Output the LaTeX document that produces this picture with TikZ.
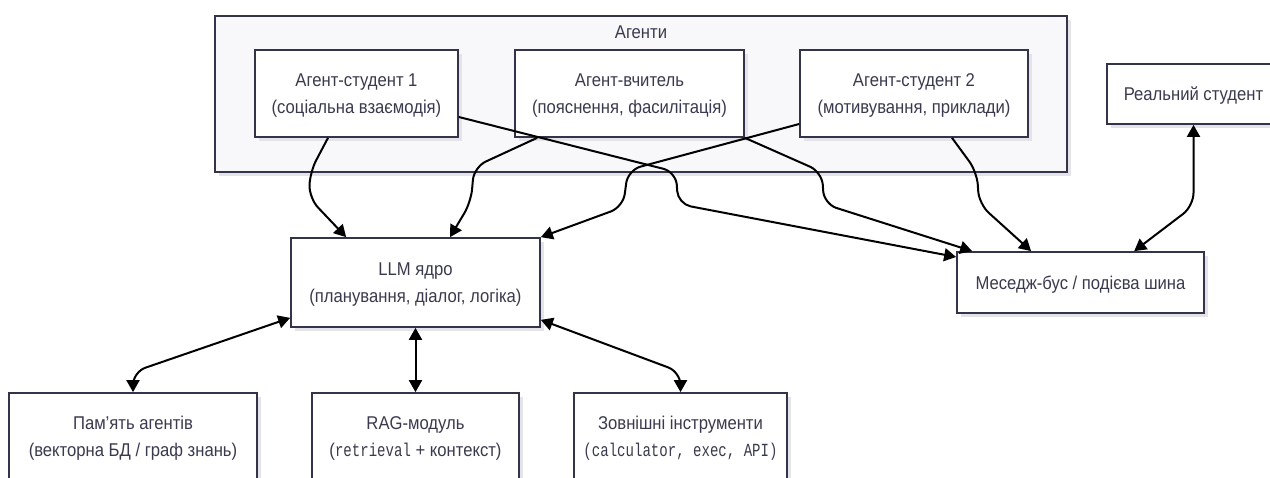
\documentclass[tikz,border=0pt]{standalone}
\usepackage{fontspec}
\setmainfont{Liberation Sans}[FakeStretch=0.9]
\newfontfamily\monof{Liberation Mono}[FakeStretch=0.76]
\usetikzlibrary{arrows.meta,calc}
\definecolor{bordc}{HTML}{33334A}
\definecolor{txtc}{HTML}{3A3A4E}
\definecolor{grpfill}{HTML}{F8F8FA}
\definecolor{shad}{HTML}{E4E4E8}
\begin{document}
\begin{tikzpicture}[x=1pt,y=-1pt,
  shadowed/.style={preaction={fill=shad, transform canvas={xshift=4pt,yshift=-4pt}}},
  box/.style={shadowed, draw=bordc, line width=1.7pt, fill=white, text=txtc, align=center,
    inner sep=0pt, font=\fontsize{18.5}{26.5}\selectfont, text depth=0pt},
  grp/.style={shadowed, draw=bordc, line width=1.7pt, fill=grpfill, inner sep=0pt},
  lbl/.style={text=txtc, inner sep=0pt, font=\fontsize{18.5}{26.5}\selectfont},
  conn/.style={line width=2pt, draw=black, rounded corners=13pt},
  tip/.style={-{Triangle[length=12pt,width=13pt]}},
  tips/.style={{Triangle[length=12pt,width=13pt]}-{Triangle[length=12pt,width=13pt]}}
]
\clip (0,0) rectangle (1270,477);
\fill[white] (0,0) rectangle (1270,477);

% group
\node[grp, minimum width=852pt, minimum height=156pt] (grp) at (641,94) {};
\node[lbl] (grpt) at (641,32) {Агенти};

% agent nodes
\node[box, minimum width=203pt, minimum height=87pt] (s1) at (356.5,93.5) {Агент-студент 1\\(соціальна взаємодія)};
\node[box, minimum width=229pt, minimum height=87pt] (t) at (629.5,93.5) {Агент-вчитель\\(пояснення, фасилітація)};
\node[box, minimum width=228pt, minimum height=87pt] (s2) at (914,93.5) {Агент-студент 2\\(мотивування, приклади)};
\node[box, minimum width=173pt, minimum height=60pt] (real) at (1193.5,94) {Реальний студент};

% core
\node[box, minimum width=249pt, minimum height=89pt] (llm) at (415.5,282.5) {LLM ядро\\(планування, діалог, логіка)};
\node[box, minimum width=247pt, minimum height=61pt] (bus) at (1080.5,282.5) {Меседж-бус / подієва шина};

% bottom
\node[box, minimum width=248pt, minimum height=87pt] (mem) at (133,436.5) {Пам'ять агентів\\(векторна БД / граф знань)};
\node[box, minimum width=207pt, minimum height=87pt] (rag) at (415.5,436.5) {RAG-модуль\\({\monof retrieval} + контекст)};
\node[box, minimum width=213pt, minimum height=87pt] (tools) at (680.5,436.5) {Зовнішні інструменти\\{\monof (calculator, exec, API)}};

% connectors to LLM
\draw[conn,tip] ($(s1.south)+(-28.5,0)$) -- (310,172) -- (309,198) -- ($(llm.north west)+(56,0)$);
\draw[conn,tip] ($(t.south west)+(23,0)$) -- (474,167) -- (471,202) -- ($(llm.north)+(34.5,0)$);
\draw[conn,tip] ($(s2.west)+(0,30.5)$) -- (628,170) -- (623,207) -- (llm.north east);

% connectors to bus
\draw[conn,tip] ($(s1.east)+(0,23.5)$) -- (676,172) -- (678,204) -- ($(bus.west)+(0,-25.5)$);
\draw[conn,tip] (t.south east) -- (822,172) -- (824,204) -- ($(bus.north west)+(16,0)$);
\draw[conn,tip] ($(s2.south)+(38,0)$) -- (977,172) -- (979,204) -- ($(bus.north west)+(75,0)$);
\draw[conn,tips] (real.south) -- (1193.5,206) -- ($(bus.north west)+(178,0)$);

% LLM to bottom
\draw[conn,tips] ($(llm.south west)+(0,-10)$) -- (133,372) -- (mem.north);
\draw[conn,tips] (llm.south) -- (rag.north);
\draw[conn,tips] ($(llm.south east)+(0,-8)$) -- (680.5,372) -- (tools.north);
\end{tikzpicture}
\end{document}
